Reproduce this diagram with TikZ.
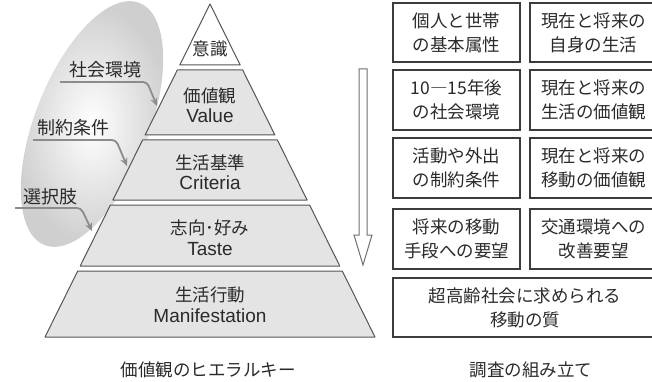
\documentclass[tikz,border=0pt]{standalone}
\usepackage{fontspec}
\setmainfont{Noto Sans CJK JP}
\newfontfamily\latf{Liberation Sans}
\usetikzlibrary{arrows.meta,calc}
\definecolor{lay}{HTML}{E4E4E4}
\definecolor{edge}{HTML}{555555}
\definecolor{boxc}{HTML}{3C3C3C}
\definecolor{arrc}{HTML}{8C8C8C}
\definecolor{harr}{HTML}{707070}
\definecolor{txt}{HTML}{2A2A2A}
\begin{document}
\begin{tikzpicture}[x=1pt,y=-1pt,
  layer/.style={fill=lay, draw=edge, line width=1pt, line join=round},
  jp/.style={font=\fontsize{17.5}{24}\selectfont, align=center, inner sep=0pt, text=txt},
  lt/.style={font=\latf\fontsize{19}{22}\selectfont, inner sep=0pt, text=txt},
  boxn/.style={draw=boxc, line width=1.2pt, minimum width=127pt, font=\fontsize{17.5}{24}\selectfont, align=center, inner sep=0pt, text=txt},
  lab/.style={font=\fontsize{18}{22}\selectfont, inner sep=0pt, text=txt},
  feed/.style={draw=arrc, line width=1.8pt, rounded corners=4pt, -{Stealth[length=8pt,width=7pt]}},
]
\useasboundingbox (0,0) rectangle (652,382);
\clip (0,0) rectangle (652,382);

% shaded ellipse
\shade[inner color=white, outer color=gray!38, rotate around={68.6:(92,124)}] (92,124) ellipse [x radius=130pt, y radius=57pt];

% pyramid layers
\filldraw[layer, fill=white] (210,4) -- (240.2,65) -- (179.8,65) -- cycle;
\filldraw[layer] (177.3,70) -- (242.7,70) -- (274.9,135) -- (145.1,135) -- cycle;
\filldraw[layer] (142.6,140) -- (277.4,140) -- (307.1,200) -- (112.9,200) -- cycle;
\filldraw[layer] (110.4,205) -- (309.6,205) -- (339.8,266) -- (80.2,266) -- cycle;
\filldraw[layer] (77.7,271) -- (342.3,271) -- (375,337) -- (45,337) -- cycle;

% pyramid texts
\node[jp] (t0) at (210,49) {意識};
\node[jp] (t1) at (210,96) {価値観};
\node[lt] (t1e) at (210,116) {Value};
\node[jp] (t2) at (210,163) {生活基準};
\node[lt] (t2e) at (210,183) {Criteria};
\node[jp] (t3) at (210,228) {志向･好み};
\node[lt] (t3e) at (210,249) {Taste};
\node[jp] (t4) at (210,295) {生活行動};
\node[lt] (t4e) at (210,316) {Manifestation};
\node[jp] (cap1) at (208,370) {価値観のヒエラルキー};

% side labels and arrows
\node[lab] (l1) at (105,70) {社会環境};
\node[lab] (l2) at (73,128) {制約条件};
\node[lab] (l3) at (50,197) {選択肢};
\coordinate (s1) at (60,82);  \coordinate (e1) at (157,106);
\coordinate (s2) at (33,140); \coordinate (e2) at (127,166);
\coordinate (s3) at (15,208); \coordinate (e3) at (92,231);
\draw[feed] (s1) -- (147,82) -- (e1);
\draw[feed] (s2) -- (116,140) -- (e2);
\draw[feed] (s3) -- (81,208) -- (e3);

% hollow arrow
\draw[draw=harr, fill=white, line width=1pt, line join=miter] (359,69) -- (367,69) -- (367,235) -- (372,235) -- (363,265) -- (354,235) -- (359,235) -- cycle;

% right boxes
\node[boxn, minimum height=59pt] (b11) at (456.5,32.5) {個人と世帯\\の基本属性};
\node[boxn, minimum height=59pt] (b12) at (593.5,32.5) {現在と将来の\\自身の生活};
\node[boxn, minimum height=60pt] (b21) at (456.5,100) {10―15年後\\の社会環境};
\node[boxn, minimum height=60pt] (b22) at (593.5,100) {現在と将来の\\生活の価値観};
\node[boxn, minimum height=60pt] (b31) at (456.5,168) {活動や外出\\の制約条件};
\node[boxn, minimum height=60pt] (b32) at (593.5,168) {現在と将来の\\移動の価値観};
\node[boxn, minimum height=60pt] (b41) at (456.5,239) {将来の移動\\手段への要望};
\node[boxn, minimum height=60pt] (b42) at (593.5,239) {交通環境への\\改善要望};
\node[boxn, minimum height=59pt, minimum width=264pt] (b5) at (525,307.5) {超高齢社会に求められる\\移動の質};
\node[jp] (cap2) at (531,370) {調査の組み立て};
\end{tikzpicture}
\end{document}
